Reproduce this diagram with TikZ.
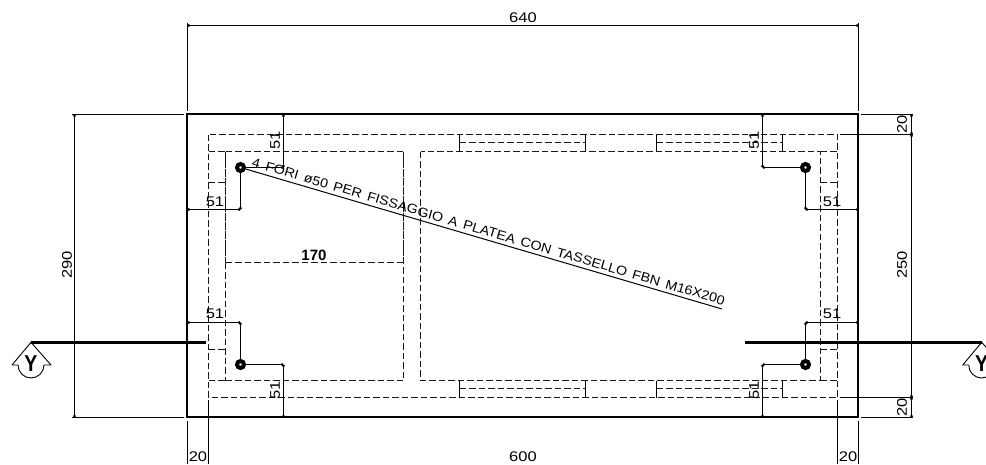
\documentclass[tikz,border=0pt]{standalone}
\usepackage{fontspec}
\usetikzlibrary{arrows.meta}
\newfontfamily\dimfont[FakeStretch=1.18]{Liberation Sans}
\newfontfamily\notefont[FakeStretch=1.1,WordSpace=1.5]{Liberation Sans}
\newfontfamily\boldfont{Liberation Sans Bold}
\tikzset{
  x=1pt,y=-1pt,
  wall/.style={line width=2.8pt,black},
  hidden/.style={line width=1pt,black!90,dash pattern=on 6.5pt off 3pt},
  dense/.style={line width=1pt,black!90,dash pattern=on 8pt off 0.8pt},
  tick/.style={line width=1pt,black},
  dimline/.style={line width=1pt,black},
  dimend/.style={line width=1pt,black,{Circle[length=2.6pt]}-{Circle[length=2.6pt]}},
  dimtext/.style={font=\dimfont\fontsize{14}{14}\selectfont,inner sep=0pt,text=black},
  section/.style={line width=2.8pt,black},
  hole/.style={circle,draw=black,line width=4pt,minimum size=7pt,inner sep=0pt,fill=white},
}
\begin{document}
\begin{tikzpicture}
\useasboundingbox (0,0) rectangle (986,464);
\clip (0,0) rectangle (986,464);
% hidden structure
\draw[hidden] (208.5,134.5) rectangle (837.5,397.5);
\draw[hidden] (225.5,151.5) -- (403.5,151.5);
\draw[hidden] (225.5,380.5) -- (403.5,380.5) -- (403.5,262.5);
\draw[hidden] (225.5,262.5) -- (225.5,380.5);
\draw[dense] (225.5,151.5) -- (225.5,262.5) (403.5,151.5) -- (403.5,262.5);
\draw[hidden] (420.5,151.5) rectangle (820.5,380.5);
\draw[hidden] (225.5,262.5) -- (403.5,262.5);
\draw[hidden] (208.5,151.5) -- (225.5,151.5) (208.5,380.5) -- (225.5,380.5);
\draw[hidden] (820.5,151.5) -- (837.5,151.5) (820.5,380.5) -- (837.5,380.5);
\draw[hidden] (208.5,182.5) -- (225.5,182.5) (208.5,349.5) -- (225.5,349.5);
\draw[hidden] (820.5,182.5) -- (837.5,182.5) (820.5,349.5) -- (837.5,349.5);
\foreach \a/\b in {459.5/585.5,656.5/782.5}{
  \draw[hidden] (\a,142.5) -- (\b,142.5);
  \draw[hidden] (\a,388.5) -- (\b,388.5);
  \draw[tick] (\a,134.5) -- (\a,151.5) (\b,134.5) -- (\b,151.5);
  \draw[tick] (\a,380.5) -- (\a,397.5) (\b,380.5) -- (\b,397.5);
}
% outer wall
\draw[wall] (187,114) rectangle (858,417);
% overall dimensions
\draw[dimline] (187.5,23) -- (187.5,111) (858.5,23) -- (858.5,111);
\draw[dimend] (187.5,25.5) -- (858.5,25.5);
\node[dimtext] (t640) at (523,17.3) {640};
\draw[dimline] (72,114.5) -- (184,114.5) (72,417.5) -- (184,417.5);
\draw[dimend] (74.5,114.5) -- (74.5,417.5);
\node[dimtext,rotate=90] (t290) at (67,265) {290};
\draw[dimline] (861,114.5) -- (913,114.5) (861,417.5) -- (913,417.5);
\draw[line width=1.6pt] (840,134.5) -- (913,134.5) (840,397.5) -- (913,397.5);
\draw[dimend] (911.5,114.5) -- (911.5,134.5);
\draw[dimend] (911.5,134.5) -- (911.5,397.5);
\draw[dimend] (911.5,397.5) -- (911.5,417.5);
\node[dimtext,rotate=90] (t20a) at (902,124.5) {20};
\node[dimtext,rotate=90] (t250) at (902,265) {250};
\node[dimtext,rotate=90] (t20b) at (902,407.5) {20};
\draw[dimline] (187.5,421) -- (187.5,464) (208.5,400) -- (208.5,464) (837.5,400) -- (837.5,464) (858.5,421) -- (858.5,464);
\node[dimtext] (t20c) at (198,457) {20};
\node[dimtext] (t600) at (523,457) {600};
\node[dimtext] (t20d) at (848,457) {20};
% hole dimensions
\draw[dimend] (283.5,114.5) -- (283.5,167.5);
\draw[dimend] (240.5,167.5) -- (283.5,167.5);
\draw[dimend] (240.5,167.5) -- (240.5,209.5);
\draw[dimend] (187.5,209.5) -- (240.5,209.5);
\draw[dimend] (187.5,322.5) -- (240.5,322.5);
\draw[dimend] (240.5,322.5) -- (240.5,364.5);
\draw[dimend] (240.5,364.5) -- (283.5,364.5);
\draw[dimend] (283.5,364.5) -- (283.5,417.5);
\draw[dimend] (762.5,114.5) -- (762.5,167.5);
\draw[dimend] (762.5,167.5) -- (805.5,167.5);
\draw[dimend] (805.5,167.5) -- (805.5,209.5);
\draw[dimend] (805.5,209.5) -- (858.5,209.5);
\draw[dimend] (805.5,322.5) -- (858.5,322.5);
\draw[dimend] (805.5,322.5) -- (805.5,364.5);
\draw[dimend] (762.5,364.5) -- (805.5,364.5);
\draw[dimend] (762.5,364.5) -- (762.5,417.5);
\node[dimtext,rotate=90] (a1) at (275,140) {51};
\node[dimtext,rotate=90] (a2) at (275,390.5) {51};
\node[dimtext,rotate=90] (a3) at (754,140) {51};
\node[dimtext,rotate=90] (a4) at (754,390.5) {51};
\node[dimtext] (b1) at (215,202) {51};
\node[dimtext] (b2) at (215,314) {51};
\node[dimtext] (b3) at (832,202) {51};
\node[dimtext] (b4) at (832,314) {51};
% holes
\node[hole] (h1) at (240.5,167.5) {};
\node[hole] (h2) at (805.5,167.5) {};
\node[hole] (h3) at (240.5,364.5) {};
\node[hole] (h4) at (805.5,364.5) {};
% note
\draw[dimline] (h1) -- (722,309);
\node[rotate=-16.4,anchor=base west,inner sep=0pt,font=\notefont\fontsize{13}{13}\selectfont] (note) at (251,166.3)
  {4 FORI ø50 PER FISSAGGIO A PLATEA CON TASSELLO FBN M16X200};
\node[inner sep=0pt,font=\boldfont\fontsize{15}{15}\selectfont] (t170) at (314,255) {170};
% section marks
\draw[section] (31,342.3) -- (206,342.3);
\draw[section] (745,342.3) -- (981.7,342.3);
\foreach \c/\n in {31/ya,981.7/yb}{
  \begin{scope}[shift={(\c,0)}]
  \draw[line width=0.9pt,line join=round] (-13,365) -- (-19,365) -- (0,342.3) -- (20,365) -- (13,365);
  \draw[line width=0.9pt] (-13,365) arc[start angle=180,end angle=360,radius=13pt,y=1pt];
  \node[inner sep=0pt,xscale=.85,font=\boldfont\fontsize{23}{23}\selectfont] (\n) at (0,363.5) {Y};
  \end{scope}
}
\end{tikzpicture}
\end{document}
